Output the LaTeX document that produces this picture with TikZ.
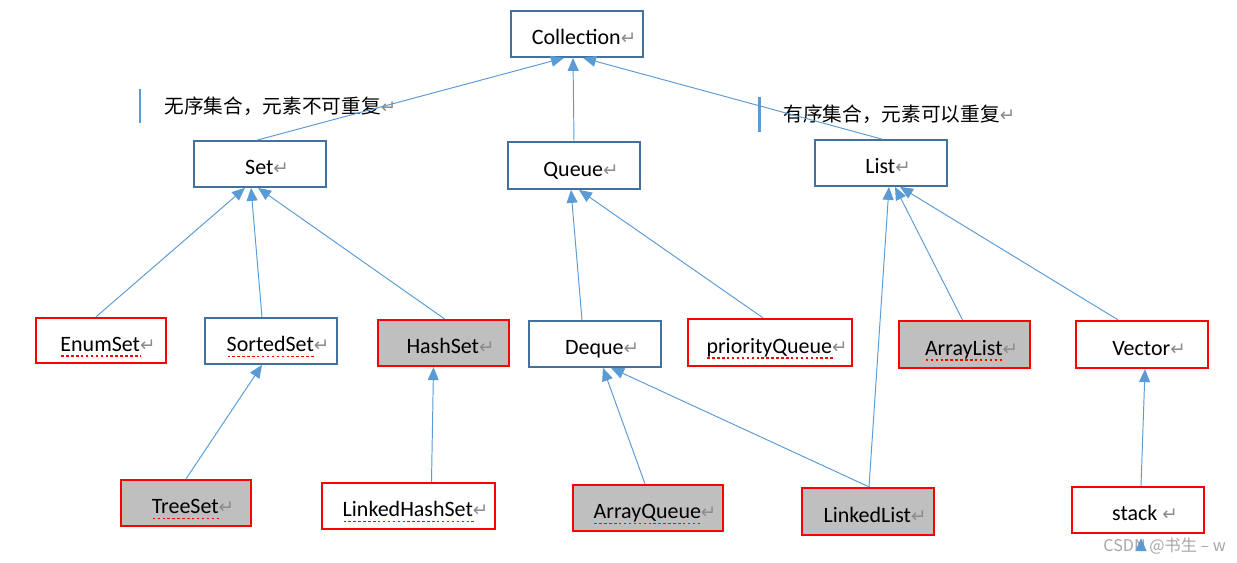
\documentclass[tikz,border=0pt]{standalone}
\usepackage{fontspec}
\usetikzlibrary{arrows.meta}
\setmainfont{Carlito}
\newfontfamily\cjk{Noto Sans CJK SC}
\newfontfamily\symfont{DejaVu Sans}
\definecolor{boxblue}{HTML}{41719C}
\definecolor{boxred}{HTML}{FF0000}
\definecolor{boxgray}{HTML}{BFBFBF}
\definecolor{linkblue}{HTML}{5B9BD5}
\definecolor{retgray}{HTML}{8C8C8C}
\definecolor{wmgray}{HTML}{A6A6A6}
\newsavebox\spellbox
\newcommand\pmark{{\symfont\fontsize{10.5}{10.5}\selectfont\color{retgray}↵}}
\newcommand\spell[1]{\sbox\spellbox{#1}\rlap{\tikz[baseline={(0pt,2.6pt)}]\draw[spelldot] (0pt,0pt) -- (\wd\spellbox,0pt);}#1}
\tikzset{
  cls/.style={rectangle, draw=boxblue, line width=1.0pt, fill=white, minimum width=2.64cm, minimum height=0.92cm, inner sep=0pt, text height=12.5pt, text depth=0pt, font=\fontsize{12.5}{15}\selectfont, execute at begin node=\hspace*{8pt}},
  impl/.style={cls, draw=boxred, line width=1.3pt},
  implg/.style={impl, fill=boxgray},
  link/.style={-{Triangle[length=0.26cm, width=0.22cm]}, draw=linkblue, line width=0.55pt},
  spelldot/.style={draw=boxred, line width=0.9pt, dash pattern=on 1.4pt off 1.4pt},
  note/.style={anchor=west, inner xsep=0.48cm, inner ysep=0pt, minimum height=0.68cm, font=\cjk\fontsize{11.2}{13}\selectfont},
  notebar/.style={draw=linkblue, line width=1.7pt},
  wmark/.style={anchor=west, inner sep=0pt, text=wmgray, font=\cjk\fontsize{9.2}{11}\selectfont},
}
\begin{document}
\begin{tikzpicture}[x=0.02cm,y=-0.02cm]
  \useasboundingbox (0,0) rectangle (1237,562);
  \node[cls] (coll) at (577,34) {Collection\pmark};
  \node[cls] (set) at (260,164) {Set\pmark};
  \node[cls, minimum height=0.94cm] (queue) at (574,165.5) {Queue\pmark};
  \node[cls] (list) at (881,163) {List\pmark};
  \node[note] (noteset) at (140,106) {无序集合，元素不可重复\pmark};
  \draw[notebar] (noteset.north west) -- (noteset.south west);
  \node[note] (notelist) at (759,114.5) {有序集合，元素可以重复\pmark};
  \draw[notebar] (notelist.north west) -- (notelist.south west);
  \node[impl, minimum width=2.60cm, minimum height=0.90cm] (enumset) at (101,340.5) {\spell{EnumSet}\pmark};
  \node[cls] (sortedset) at (271,341) {\spell{SortedSet}\pmark};
  \node[implg, minimum width=2.62cm] (hashset) at (443.5,343) {HashSet\pmark};
  \node[cls] (deque) at (595,344) {Deque\pmark};
  \node[impl, minimum width=3.28cm, minimum height=0.94cm] (pqueue) at (770,342.5) {\spell{priorityQueue}\pmark};
  \node[implg, minimum width=2.62cm, minimum height=0.94cm] (arraylist) at (964.5,344.5) {\spell{ArrayList}\pmark};
  \node[impl, minimum height=0.94cm] (vector) at (1142,344.5) {Vector\pmark};
  \node[implg, minimum width=2.60cm] (treeset) at (186,503) {\spell{TreeSet}\pmark};
  \node[impl, minimum width=3.46cm] (lhset) at (408.5,506) {\spell{LinkedHashSet}\pmark};
  \node[implg, minimum width=3.00cm] (arrayqueue) at (648,508) {\spell{ArrayQueue}\pmark};
  \node[implg, minimum height=0.94cm] (linkedlist) at (868,511.5) {LinkedList\pmark};
  \node[impl] (stack) at (1138,510) {stack \pmark};
  \coordinate (stackin) at (1141,551);
  \node[wmark] (wm) at (1103,546) {CSDN @书生 – w};
  \draw[link] ([xshift=-0.06cm]set.north) -- ([xshift=-0.26cm]coll.south);
  \draw[link] (queue.north) -- ([xshift=-0.08cm]coll.south);
  \draw[link] ([xshift=0.02cm]list.north) -- ([xshift=0.12cm]coll.south);
  \draw[link] ([xshift=-0.10cm]enumset.north) -- ([xshift=-0.30cm]set.south);
  \draw[link] ([xshift=-0.18cm]sortedset.north) -- ([xshift=-0.18cm]set.south);
  \draw[link] ([xshift=0.02cm]hashset.north) -- ([xshift=-0.04cm]set.south);
  \draw[link] ([xshift=-0.26cm]deque.north) -- ([xshift=-0.06cm]queue.south);
  \draw[link] ([xshift=-0.14cm]pqueue.north) -- ([xshift=0.10cm]queue.south);
  \draw[link] ([xshift=-0.04cm]arraylist.north) -- ([xshift=0.28cm]list.south);
  \draw[link] ([xshift=-0.48cm]vector.north) -- ([xshift=0.38cm]list.south);
  \draw[link] ([xshift=0.02cm]linkedlist.north) -- ([xshift=0.16cm]list.south);
  \draw[link] (treeset.north) -- ([xshift=-0.18cm]sortedset.south);
  \draw[link] ([xshift=0.46cm]lhset.north) -- ([xshift=-0.20cm]hashset.south);
  \draw[link] ([xshift=-0.06cm]arrayqueue.north) -- ([xshift=0.16cm]deque.south);
  \draw[link] ([xshift=0.02cm]linkedlist.north) -- ([xshift=0.32cm]deque.south);
  \draw[link] ([xshift=0.06cm]stack.north) -- ([xshift=0.06cm]vector.south);
  \draw[link] (stackin) -- ([xshift=0.06cm,yshift=-0.08cm]stack.south);
\end{tikzpicture}
\end{document}
